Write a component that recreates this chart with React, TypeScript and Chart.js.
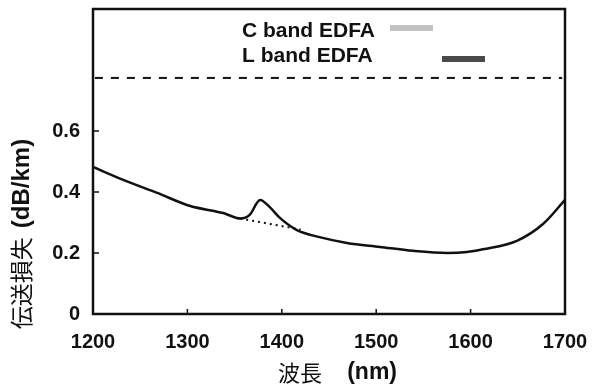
import React, { useEffect, useRef } from 'react';
import { Chart, registerables } from 'chart.js';

Chart.register(...registerables);

// Attenuation curve (wavelength nm, loss dB/km)
const wavelengths = [1200, 1232, 1268, 1303, 1338, 1356, 1366, 1377, 1387, 1398, 1416, 1440, 1469, 1504, 1539, 1575, 1596, 1613, 1649, 1677, 1700];
const loss = [0.482, 0.44, 0.397, 0.354, 0.331, 0.313, 0.325, 0.374, 0.351, 0.315, 0.275, 0.252, 0.233, 0.22, 0.207, 0.2, 0.203, 0.212, 0.24, 0.296, 0.374];

// Dotted line under the OH peak
const dipWavelengths = [1356, 1420];
const dipLoss = [0.313, 0.277];

// Dashed horizontal reference line
const refWavelengths = [1202, 1697];
const refLoss = [0.774, 0.774];

const xTicks = [1200, 1300, 1400, 1500, 1600, 1700];
const yTicks = [0, 0.2, 0.4, 0.6];

const legendLabels = ['C band EDFA', 'L band EDFA'];
const legendColors = ['#c2c2c2', '#4a4a4a'];

const xTitleJa = '波長';
const xTitleUnit = '(nm)';
const yTitleJa = '伝送損失';
const yTitleUnit = '(dB/km)';

const LATIN = "'Liberation Sans', Arial, sans-serif";
const CJK = "'Noto Sans CJK JP', sans-serif";

const decorPlugin = {
  id: 'decor',
  afterDatasetsDraw(chart: any) {
    const { ctx, chartArea } = chart;
    const { left, right, top, bottom } = chartArea;
    const xs = chart.scales.x;
    const ys = chart.scales.y;
    ctx.save();
    ctx.strokeStyle = '#111';
    ctx.lineWidth = 2.5;
    ctx.strokeRect(left, top, right - left, bottom - top);
    ctx.lineWidth = 1.5;
    ctx.beginPath();
    xTicks.slice(1, -1).forEach((v) => {
      const px = xs.getPixelForValue(v);
      ctx.moveTo(px, bottom);
      ctx.lineTo(px, bottom - 5);
    });
    yTicks.slice(1).forEach((v) => {
      const py = ys.getPixelForValue(v);
      ctx.moveTo(left, py);
      ctx.lineTo(left + 6, py);
    });
    ctx.stroke();
    ctx.restore();
  },
  afterDraw(chart: any) {
    const { ctx } = chart;
    ctx.save();
    ctx.fillStyle = '#111';
    ctx.textBaseline = 'middle';

    // Legend
    ctx.font = `bold 21px ${LATIN}`;
    ctx.textAlign = 'left';
    ctx.fillText(legendLabels[0], 242, 31);
    ctx.fillText(legendLabels[1], 242, 56);
    ctx.fillStyle = legendColors[0];
    ctx.fillRect(390, 25, 43, 6);
    ctx.fillStyle = legendColors[1];
    ctx.fillRect(442, 56, 43, 6);

    // X title
    ctx.fillStyle = '#111';
    ctx.font = `22px ${CJK}`;
    ctx.textAlign = 'left';
    ctx.fillText(xTitleJa, 278, 373);
    ctx.font = `bold 23px ${LATIN}`;
    ctx.textAlign = 'right';
    ctx.fillText(xTitleUnit, 397, 373);

    // Y title (rotated)
    ctx.translate(21, 234);
    ctx.rotate(-Math.PI / 2);
    ctx.font = `23px ${CJK}`;
    const w1 = ctx.measureText(yTitleJa).width;
    ctx.font = `bold 24px ${LATIN}`;
    const w2 = ctx.measureText(yTitleUnit).width;
    const gap = 9;
    const total = w1 + gap + w2;
    const x0 = -total / 2;
    ctx.textAlign = 'left';
    ctx.font = `23px ${CJK}`;
    ctx.fillText(yTitleJa, x0, 0);
    ctx.font = `bold 24px ${LATIN}`;
    ctx.fillText(yTitleUnit, x0 + w1 + gap, 1);
    ctx.restore();
  },
};

export default function App() {
  const canvasRef = useRef<HTMLCanvasElement | null>(null);

  useEffect(() => {
    document.body.style.margin = '0';
    const canvas = canvasRef.current;
    if (!canvas) return;
    const chart = new Chart(canvas, {
      type: 'line',
      data: {
        datasets: [
          {
            data: wavelengths.map((w, i) => ({ x: w, y: loss[i] })),
            borderColor: '#111',
            borderWidth: 2.5,
            pointRadius: 0,
            cubicInterpolationMode: 'monotone',
            fill: false,
          },
          {
            data: dipWavelengths.map((w, i) => ({ x: w, y: dipLoss[i] })),
            borderColor: '#111',
            borderWidth: 2,
            borderDash: [2, 4],
            pointRadius: 0,
            fill: false,
          },
          {
            data: refWavelengths.map((w, i) => ({ x: w, y: refLoss[i] })),
            borderColor: '#111',
            borderWidth: 2,
            borderDash: [8, 8],
            pointRadius: 0,
            fill: false,
          },
        ],
      },
      options: {
        responsive: false,
        animation: false,
        devicePixelRatio: 1,
        layout: { padding: { left: 0, right: 27, top: 9, bottom: 0 } },
        plugins: { legend: { display: false }, tooltip: { enabled: false } },
        scales: {
          x: {
            type: 'linear',
            min: 1200,
            max: 1700,
            afterBuildTicks: (s: any) => {
              s.ticks = xTicks.map((v) => ({ value: v }));
            },
            afterFit: (s: any) => {
              s.height = 77;
              s.paddingLeft = 0;
              s.paddingRight = 0;
            },
            ticks: {
              autoSkip: false,
              maxRotation: 0,
              padding: 16,
              color: '#111',
              font: { family: LATIN, size: 20, weight: 'bold' },
              callback: (v: any) => String(v),
            },
            grid: { display: false, drawTicks: false },
            border: { display: false },
          },
          y: {
            type: 'linear',
            min: 0,
            max: 1,
            afterBuildTicks: (s: any) => {
              s.ticks = yTicks.map((v) => ({ value: v }));
            },
            afterFit: (s: any) => {
              s.width = 93;
              s.paddingTop = 0;
              s.paddingBottom = 0;
            },
            ticks: {
              autoSkip: false,
              padding: 13,
              color: '#111',
              font: { family: LATIN, size: 20, weight: 'bold' },
              callback: (v: any) => (v === 0 ? '0' : Number(v).toFixed(1)),
            },
            grid: { display: false, drawTicks: false },
            border: { display: false },
          },
        },
      },
      plugins: [decorPlugin],
    } as any);
    return () => chart.destroy();
  }, []);

  return (
    <div style={{ width: 592, height: 391, background: '#fff' }}>
      <canvas ref={canvasRef} width={592} height={391} style={{ display: 'block', width: 592, height: 391 }} />
    </div>
  );
}
